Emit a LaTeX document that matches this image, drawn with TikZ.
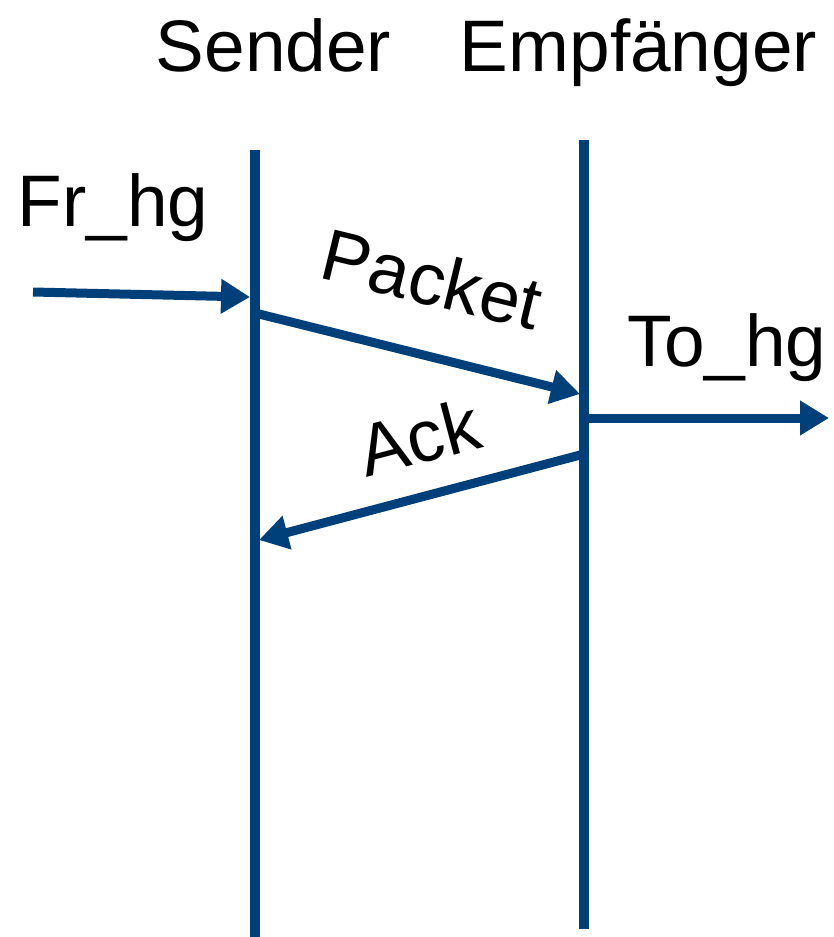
\documentclass[tikz,border=0pt]{standalone}
\usepackage{fontspec}
\setmainfont{Liberation Sans}
\usetikzlibrary{arrows.meta}
\definecolor{lineblue}{RGB}{0,64,122}
\tikzset{
  lifeline/.style={draw=lineblue, line width=10pt},
  msg/.style={draw=lineblue, line width=9pt,
    -{Triangle[length=29pt,width=33pt]}},
  lbl/.style={font=\fontsize{73}{80}\selectfont, inner sep=0pt, anchor=base},
  slantlbl/.style={font=\fontsize{73}{80}\selectfont, inner sep=0pt}
}
\begin{document}
\begin{tikzpicture}[x=1pt,y=-1pt]
  \useasboundingbox (0,0) rectangle (834,937);

  % column headings
  \node[lbl] (sender) at (273.5,71) {Sender};
  \node[lbl] (empf) at (638.5,71) {Empfänger};

  % life lines
  \coordinate (sTop) at (255,150);
  \coordinate (sBot) at (255,937);
  \coordinate (eTop) at (584,140);
  \coordinate (eBot) at (584,929);
  \draw[lifeline] (sTop) -- (sBot);
  \draw[lifeline] (eTop) -- (eBot);

  % message end points
  \coordinate (inStart) at (33,292);
  \coordinate (inEnd) at (250,297);
  \coordinate (pStart) at (255,313);
  \coordinate (pEnd) at (580,394);
  \coordinate (aStart) at (584,454);
  \coordinate (aEnd) at (259,540);
  \coordinate (outStart) at (589,418);
  \coordinate (outEnd) at (829,418);

  % messages
  \draw[msg] (inStart) -- (inEnd);
  \draw[msg] (pStart) -- (pEnd);
  \draw[msg] (aStart) -- (aEnd);
  \draw[msg] (outStart) -- (outEnd);

  % message labels
  \node[lbl] (frhg) at (113,226) {Fr\_hg};
  \node[lbl] (tohg) at (727,366) {To\_hg};
  \node[slantlbl, rotate=-13.7] (packet) at (432,279) {Packet};
  \node[slantlbl, rotate=14.8] (ack) at (419,437) {Ack};
\end{tikzpicture}
\end{document}
